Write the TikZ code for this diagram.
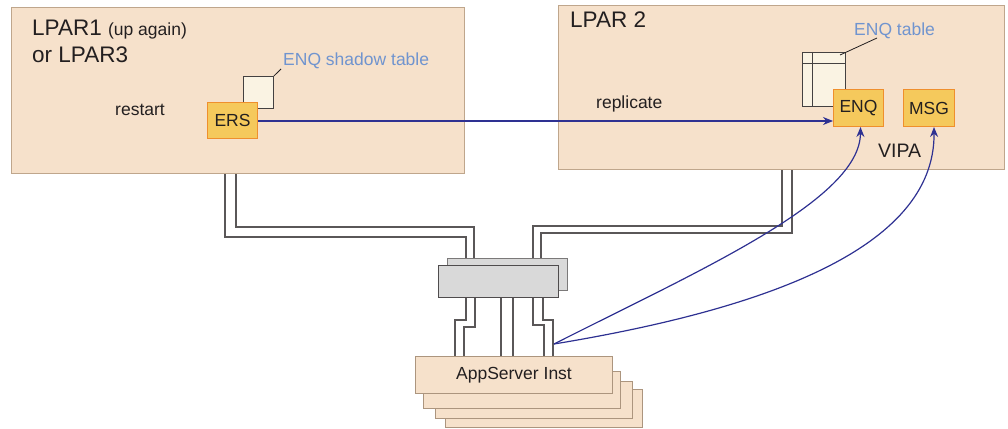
\documentclass[tikz,border=0pt]{standalone}
\usepackage{fontspec}
\setmainfont{Liberation Sans}
\usetikzlibrary{arrows.meta}
\definecolor{peach}{HTML}{F6E1CB}
\definecolor{peachline}{HTML}{BFA68C}
\definecolor{compfill}{HTML}{F5C95C}
\definecolor{compline}{HTML}{EF8F2D}
\definecolor{ink}{HTML}{231F20}
\definecolor{labelblue}{HTML}{7094CF}
\definecolor{flowblue}{HTML}{2E3192}
\definecolor{tablefill}{HTML}{FAF3E3}
\definecolor{switchfill}{HTML}{D9D9D9}
\tikzset{
  lpar/.style={draw=peachline, fill=peach, line width=1pt, anchor=north west, inner sep=0pt},
  comp/.style={draw=compline, fill=compfill, line width=1pt, anchor=north west, inner sep=0pt,
               text=ink, font=\fontsize{17.5}{20}\selectfont},
  tbl/.style={draw=ink!85, fill=tablefill, line width=0.9pt, anchor=north west, inner sep=0pt},
  sw/.style={draw=ink!80, fill=switchfill, line width=1pt, anchor=north west, inner sep=0pt},
  inst/.style={draw=peachline!90!black, fill=peach, line width=1pt, anchor=north west, inner sep=0pt,
               text=ink, font=\fontsize{17.5}{20}\selectfont},
  txt/.style={anchor=base west, inner sep=0pt, text=ink, font=\fontsize{17.5}{20}\selectfont},
  title/.style={anchor=base west, inner sep=0pt, text=ink, font=\fontsize{22.5}{26}\selectfont},
  bluetxt/.style={anchor=base west, inner sep=0pt, text=labelblue, font=\fontsize{17.5}{20}\selectfont},
  cable/.style={draw=ink!75, line width=1.1pt},
  leader/.style={draw=ink, line width=0.8pt},
  flow/.style={draw=flowblue, line width=1.2pt, -{Stealth[length=10pt,width=8pt]}},
}
\begin{document}
\begin{tikzpicture}[x=1pt,y=-1pt]
\useasboundingbox (0,0) rectangle (1008,428);

% logical partitions
\node[lpar, minimum width=453, minimum height=166] (lpar1) at (11,7) {};
\node[lpar, minimum width=446, minimum height=164] (lpar2) at (558,5) {};

\node[title] (t1) at (32,36) {LPAR1 {\fontsize{17.5}{20}\selectfont(up again)}};
\node[title] (t3) at (32,63) {or LPAR3};
\node[title] (t2) at (570,28) {LPAR 2};

% enqueue replication server side
\node[tbl, minimum width=30, minimum height=32] (shadow) at (243,76) {};
\node[bluetxt] (shadowlbl) at (283,66) {ENQ shadow table};
\draw[leader] (shadow.north east) -- (281,69);
\node[txt] (restart) at (115,115) {restart};
\node[comp, minimum width=50, minimum height=36] (ERS) at (207,102) {ERS};

% enqueue server side
\node[tbl, minimum width=43, minimum height=54] (enqtbl) at (802,52) {};
\draw[draw=ink!85, line width=0.9pt] (812,0 |- enqtbl.north) -- (812,0 |- enqtbl.south);
\draw[draw=ink!85, line width=0.9pt] (enqtbl.west |- 0,63) -- (enqtbl.east |- 0,63);
\node[bluetxt] (enqlbl) at (854,36) {ENQ table};
\draw[leader] (840,55) -- (877,38);
\node[comp, minimum width=50, minimum height=37] (ENQ) at (833,89) {ENQ};
\node[comp, minimum width=51, minimum height=37] (MSG) at (903,89) {MSG};
\node[txt, font=\fontsize{19.5}{22}\selectfont] (vipa) at (878,157) {VIPA};
\node[txt] (repl) at (596,108) {replicate};

\draw[flow] (ERS.east |- 0,121) -- (ENQ.west |- 0,121);

% network switch
\node[sw, draw=ink!60, minimum width=120, minimum height=32] (swb) at (447,258) {};

% cables from the partitions to the switch
\draw[cable] (lpar1.south -| 225,0) -- (225,237) -- (466,237) -- (466,0 |- swb.north);
\draw[cable] (lpar1.south -| 236,0) -- (236,227) -- (474,227) -- (474,0 |- swb.north);
\draw[cable] (lpar2.south -| 782,0) -- (782,226) -- (533,226) -- (533,0 |- swb.north);
\draw[cable] (lpar2.south -| 792,0) -- (792,233) -- (541,233) -- (541,0 |- swb.north);

\node[sw, minimum width=120, minimum height=32] (swf) at (438,265) {};

% application server instances
\node[inst, minimum width=197, minimum height=38] (as4) at (445,389) {};
\node[inst, minimum width=197, minimum height=37] (as3) at (435,381) {};
\node[inst, minimum width=197, minimum height=37] (as2) at (423,371) {};
\node[inst, minimum width=197, minimum height=37] (as1) at (415,356) {AppServer Inst};

% cables from the switch to the instances
\draw[cable] (swf.south -| 466,0) -- (466,320) -- (455,320) -- (455,0 |- as1.north);
\draw[cable] (swf.south -| 475,0) -- (475,327) -- (464,327) -- (464,0 |- as1.north);
\draw[cable] (swf.south -| 501,0) -- (501,0 |- as1.north);
\draw[cable] (swf.south -| 513,0) -- (513,0 |- as1.north);
\draw[cable] (swf.south -| 533,0) -- (533,325) -- (544,325) -- (544,0 |- as1.north);
\draw[cable] (swf.south -| 543,0) -- (543,320) -- (553,320) -- (553,0 |- as1.north);

% client connections
\coordinate (hub) at (554,344);
\draw[flow] (hub) .. controls (700,270) and (860,200) .. ([xshift=2pt]ENQ.south);
\draw[flow] (hub) .. controls (760,310) and (935,250) .. ([xshift=5pt]MSG.south);
\end{tikzpicture}
\end{document}
